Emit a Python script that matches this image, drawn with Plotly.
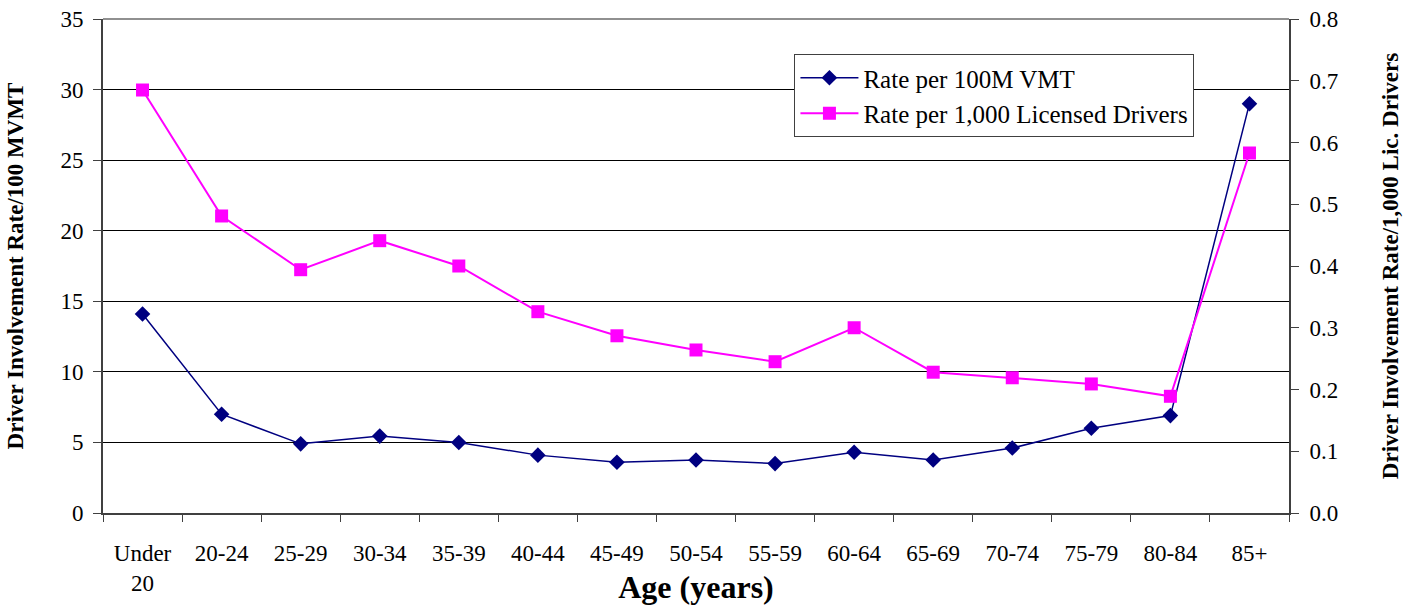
import plotly.graph_objects as go

ages = ["Under<br>20", "20-24", "25-29", "30-34", "35-39", "40-44", "45-49", "50-54",
        "55-59", "60-64", "65-69", "70-74", "75-79", "80-84", "85+"]
rate_vmt = [14.1, 7.0, 4.9, 5.45, 5.0, 4.1, 3.6, 3.75, 3.5, 4.3, 3.75, 4.6, 6.0, 6.9, 29.0]
rate_lic = [0.685, 0.481, 0.394, 0.441, 0.400, 0.326, 0.287, 0.264, 0.245, 0.300,
            0.228, 0.219, 0.209, 0.189, 0.583]

font = "Liberation Serif"

fig = go.Figure()
fig.add_trace(go.Scatter(
    x=ages, y=rate_vmt, name="Rate per 100M VMT", mode="lines+markers",
    line=dict(color="#000080", width=1.5),
    marker=dict(symbol="diamond", size=12, color="#000080"),
    yaxis="y", cliponaxis=False))
fig.add_trace(go.Scatter(
    x=ages, y=rate_lic, name="Rate per 1,000 Licensed Drivers", mode="lines+markers",
    line=dict(color="#FF00FF", width=2),
    marker=dict(symbol="square", size=13, color="#FF00FF"),
    yaxis="y2", cliponaxis=False))

tick_font = dict(family=font, size=23, color="black")

fig.update_layout(
    width=1419, height=605,
    margin=dict(l=103, r=130, t=19, b=92, autoexpand=False),
    plot_bgcolor="white", paper_bgcolor="white",
    font=dict(family=font, size=23, color="black"),
    showlegend=True,
    legend=dict(x=0.583, y=0.929, xanchor="left", yanchor="top",
                bordercolor="#404040", borderwidth=1, bgcolor="white",
                font=dict(family=font, size=25, color="black"), tracegroupgap=2, itemwidth=58),
    xaxis=dict(
        title=dict(text="<b>Age (years)</b>", font=dict(family=font, size=32), standoff=0),
        automargin=False,
        tickson="boundaries", ticks="outside", ticklen=7, tickcolor="#404040",
        ticklabelstandoff=18,
        showline=True, linecolor="#404040", linewidth=2,
        showgrid=False, mirror=False, tickfont=tick_font,
        range=[-0.5, 14.5]),
    yaxis=dict(
        title=dict(text="<b>Driver Involvement Rate/100 MVMT</b>", font=dict(family=font, size=23), standoff=30),
        automargin=False,
        range=[0, 35], dtick=5, tickformat="d",
        ticks="outside", ticklen=8, tickcolor="#404040",
        ticklabelstandoff=5,
        showline=True, linecolor="#404040", linewidth=2,
        showgrid=True, gridcolor="black", gridwidth=1,
        zeroline=False, tickfont=tick_font),
    yaxis2=dict(
        title=dict(text="<b>Driver Involvement Rate/1,000 Lic. Drivers</b>", font=dict(family=font, size=23), standoff=44),
        automargin=False,
        range=[0, 0.8], dtick=0.1, tickformat=".1f",
        overlaying="y", side="right",
        ticks="outside", ticklen=8, tickcolor="#404040",
        ticklabelstandoff=6,
        showline=True, linecolor="#404040", linewidth=2,
        showgrid=False, zeroline=False, tickfont=tick_font),
)

# top border of plot area
fig.add_shape(type="line", xref="paper", yref="paper", x0=0, x1=1, y0=1, y1=1,
              line=dict(color="#909090", width=2))

fig.write_html("out.html")
